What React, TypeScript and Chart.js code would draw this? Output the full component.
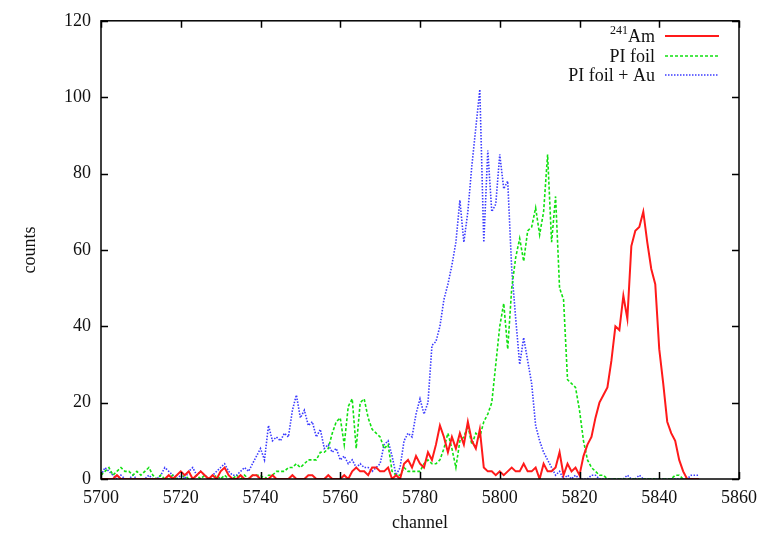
import React, { useEffect, useRef } from 'react';
import { Chart, registerables } from 'chart.js';

Chart.register(...registerables);

// Channels 5700 … 5850
const channels: number[] = [
  5700, 5701, 5702, 5703, 5704, 5705, 5706, 5707, 5708, 5709,
  5710, 5711, 5712, 5713, 5714, 5715, 5716, 5717, 5718, 5719,
  5720, 5721, 5722, 5723, 5724, 5725, 5726, 5727, 5728, 5729,
  5730, 5731, 5732, 5733, 5734, 5735, 5736, 5737, 5738, 5739,
  5740, 5741, 5742, 5743, 5744, 5745, 5746, 5747, 5748, 5749,
  5750, 5751, 5752, 5753, 5754, 5755, 5756, 5757, 5758, 5759,
  5760, 5761, 5762, 5763, 5764, 5765, 5766, 5767, 5768, 5769,
  5770, 5771, 5772, 5773, 5774, 5775, 5776, 5777, 5778, 5779,
  5780, 5781, 5782, 5783, 5784, 5785, 5786, 5787, 5788, 5789,
  5790, 5791, 5792, 5793, 5794, 5795, 5796, 5797, 5798, 5799,
  5800, 5801, 5802, 5803, 5804, 5805, 5806, 5807, 5808, 5809,
  5810, 5811, 5812, 5813, 5814, 5815, 5816, 5817, 5818, 5819,
  5820, 5821, 5822, 5823, 5824, 5825, 5826, 5827, 5828, 5829,
  5830, 5831, 5832, 5833, 5834, 5835, 5836, 5837, 5838, 5839,
  5840, 5841, 5842, 5843, 5844, 5845, 5846, 5847, 5848, 5849,
  5850,
];

const am241: number[] = [
  0, 0, 0, 0, 1, 0, 0, 0, 0, 0,
  0, 0, 0, 0, 0, 0, 0, 1, 0, 1,
  2, 1, 2, 0, 1, 2, 1, 0, 1, 0,
  2, 3, 1, 0, 0, 1, 0, 0, 1, 1,
  0, 0, 0, 1, 0, 0, 0, 0, 1, 0,
  0, 0, 1, 1, 0, 0, 0, 1, 0, 0,
  0, 1, 0, 2, 3, 2, 2, 1, 3, 3,
  2, 2, 3, 0, 1, 0, 4, 5, 3, 6,
  4, 3, 7, 5, 9, 14, 11, 7, 11, 8,
  12, 9, 15, 10, 8, 13, 3, 2, 2, 1,
  2, 1, 2, 3, 2, 2, 4, 2, 2, 3,
  0, 4, 2, 2, 3, 7, 1, 4, 2, 3,
  1, 6, 9, 11, 16, 20, 22, 24, 31, 40,
  39, 48, 42, 61, 65, 66, 70, 62, 55, 51,
  34, 25, 15, 12, 10, 5, 2, 0, 0, 0,
  0,
];

const piFoil: number[] = [
  1, 2, 3, 1, 2, 3, 2, 2, 1, 2,
  1, 2, 3, 1, 0, 1, 0, 0, 1, 0,
  0, 1, 0, 0, 1, 0, 1, 0, 0, 1,
  0, 1, 0, 0, 1, 0, 1, 0, 1, 1,
  1, 0, 1, 1, 2, 2, 2, 3, 3, 4,
  3, 4, 5, 5, 5, 7, 7, 8, 12, 15,
  16, 9, 19, 21, 8, 20, 21, 16, 13, 12,
  11, 8, 9, 2, 1, 1, 3, 2, 2, 2,
  2, 4, 5, 4, 4, 5, 8, 12, 8, 3,
  10, 11, 14, 9, 12, 11, 15, 17, 20, 30,
  40, 46, 34, 50, 58, 63, 57, 65, 66, 71,
  64, 70, 85, 62, 74, 50, 47, 26, 25, 24,
  18, 10, 5, 3, 2, 1, 1, 0, 0, 0,
  0, 0, 0, 0, 0, 0, 0, 0, 0, 0,
  0, 0, 0, 0, 1, 1, 0, 0, 0, 0,
  0,
];

const piFoilAu: number[] = [
  1, 3, 2, 1, 0, 1, 0, 0, 1, 0,
  0, 0, 1, 0, 0, 1, 3, 2, 1, 0,
  1, 0, 2, 3, 1, 2, 1, 0, 1, 2,
  3, 4, 2, 1, 1, 2, 3, 2, 4, 6,
  8, 5, 14, 10, 11, 10, 12, 11, 18, 22,
  16, 18, 14, 15, 11, 13, 8, 9, 7, 8,
  5, 6, 4, 5, 3, 4, 3, 3, 2, 3,
  4, 9, 10, 6, 1, 3, 10, 12, 11, 17,
  21, 17, 20, 35, 36, 40, 47, 51, 56, 62,
  73, 62, 70, 82, 92, 102, 62, 86, 70, 72,
  85, 76, 78, 55, 42, 30, 37, 31, 25, 14,
  10, 7, 5, 3, 1, 2, 0, 1, 0, 1,
  0, 0, 0, 1, 1, 0, 0, 0, 0, 0,
  0, 0, 1, 0, 0, 1, 0, 0, 0, 0,
  0, 0, 0, 0, 0, 0, 0, 0, 1, 1,
  1,
];

const xTicks: number[] = [5700, 5720, 5740, 5760, 5780, 5800, 5820, 5840, 5860];
const yTicks: number[] = [0, 20, 40, 60, 80, 100, 120];

const seriesNames = ['Am', 'PI foil', 'PI foil + Au'];
const seriesColors = ['#ff1a1a', '#10e010', '#3b3bff'];
const seriesDash: number[][] = [[], [3, 2], [1.5, 1.5]];
const seriesWidth = [2, 1.6, 1.6];

const FONT = "'Liberation Serif', 'DejaVu Serif', serif";

const framePlugin = {
  id: 'gnuframe',
  afterDraw(chart: any) {
    const { ctx, chartArea: a, scales } = chart;
    ctx.save();
    ctx.strokeStyle = '#000';
    ctx.lineWidth = 1.5;
    ctx.setLineDash([]);
    ctx.strokeRect(a.left, a.top, a.right - a.left, a.bottom - a.top);
    const tl = 7;
    ctx.beginPath();
    for (const v of xTicks) {
      const px = Math.round(scales.x.getPixelForValue(v)) + 0.5;
      ctx.moveTo(px, a.bottom);
      ctx.lineTo(px, a.bottom - tl);
      ctx.moveTo(px, a.top);
      ctx.lineTo(px, a.top + tl);
    }
    for (const v of yTicks) {
      const py = Math.round(scales.y.getPixelForValue(v)) + 0.5;
      ctx.moveTo(a.left, py);
      ctx.lineTo(a.left + tl, py);
      ctx.moveTo(a.right, py);
      ctx.lineTo(a.right - tl, py);
    }
    ctx.stroke();

    // legend
    const textRight = 655;
    const lx0 = 665;
    const lx1 = 719;
    const rows = [36, 56, 75];
    ctx.fillStyle = '#111';
    ctx.textBaseline = 'middle';
    ctx.textAlign = 'right';
    for (let i = 0; i < 3; i++) {
      const y = rows[i];
      ctx.font = `18px ${FONT}`;
      ctx.fillText(seriesNames[i], textRight, y + 1);
      if (i === 0) {
        const w = ctx.measureText(seriesNames[i]).width;
        ctx.font = `12px ${FONT}`;
        ctx.fillText('241', textRight - w, y - 5);
      }
      ctx.beginPath();
      ctx.strokeStyle = seriesColors[i];
      ctx.lineWidth = seriesWidth[i];
      ctx.setLineDash(seriesDash[i]);
      ctx.moveTo(lx0, y);
      ctx.lineTo(lx1, y);
      ctx.stroke();
    }
    ctx.setLineDash([]);

    // axis titles
    ctx.fillStyle = '#111';
    ctx.font = `18px ${FONT}`;
    ctx.textAlign = 'center';
    ctx.textBaseline = 'middle';
    ctx.fillText('channel', (a.left + a.right) / 2, 523);
    ctx.save();
    ctx.translate(30, (a.top + a.bottom) / 2);
    ctx.rotate(-Math.PI / 2);
    ctx.fillText('counts', 0, 0);
    ctx.restore();
    ctx.restore();
  },
};

export default function App() {
  const ref = useRef<HTMLCanvasElement | null>(null);
  useEffect(() => {
    if (!ref.current) return;
    const series = [am241, piFoil, piFoilAu];
    const chart = new Chart(ref.current, {
      type: 'line',
      data: {
        datasets: series.map((vals, i) => ({
          label: seriesNames[i],
          data: channels.map((c, j) => ({ x: c, y: vals[j] })),
          borderColor: seriesColors[i],
          borderWidth: seriesWidth[i],
          borderDash: seriesDash[i],
          pointRadius: 0,
          tension: 0,
          fill: false,
        })),
      },
      options: {
        animation: false,
        responsive: false,
        events: [],
        layout: { padding: { top: 20, right: 23, left: 0, bottom: 0 } },
        plugins: { legend: { display: false }, tooltip: { enabled: false } },
        scales: {
          x: {
            type: 'linear',
            min: 5700,
            max: 5860,
            afterBuildTicks: (s: any) => {
              s.ticks = xTicks.map((v) => ({ value: v }));
            },
            afterFit: (s: any) => {
              s.height = 57;
            },
            grid: { display: false, drawTicks: false },
            border: { display: false },
            ticks: {
              padding: 8,
              maxRotation: 0,
              autoSkip: false,
              color: '#111',
              font: { family: FONT, size: 18 },
              callback: (v: any) => String(v),
            },
          },
          y: {
            type: 'linear',
            min: 0,
            max: 120,
            afterBuildTicks: (s: any) => {
              s.ticks = yTicks.map((v) => ({ value: v }));
            },
            afterFit: (s: any) => {
              s.width = 101;
            },
            grid: { display: false, drawTicks: false },
            border: { display: false },
            ticks: {
              padding: 10,
              autoSkip: false,
              color: '#111',
              font: { family: FONT, size: 18 },
              callback: (v: any) => String(v),
            },
          },
        },
      },
      plugins: [framePlugin],
    });
    return () => chart.destroy();
  }, []);
  return (
    <div style={{ position: 'absolute', left: 0, top: 0, width: 765, height: 536, background: '#fff' }}>
      <canvas ref={ref} width={765} height={536} />
    </div>
  );
}
